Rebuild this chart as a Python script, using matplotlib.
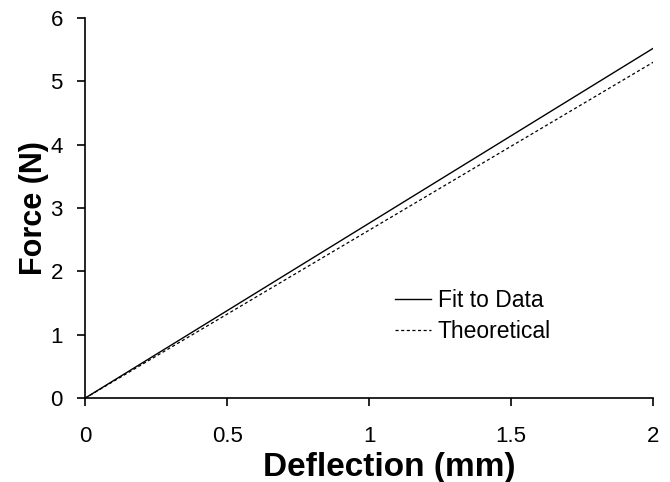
import matplotlib
matplotlib.use("Agg")
import matplotlib.pyplot as plt

plt.rcParams['font.family'] = ['Liberation Sans', 'DejaVu Sans']

deflection = [0, 2]
fit_to_data = [0, 5.52]
theoretical = [0, 5.30]
xticks = [0, 0.5, 1, 1.5, 2]
xtick_labels = ['0', '0.5', '1', '1.5', '2']
yticks = [0, 1, 2, 3, 4, 5, 6]

fig = plt.figure(figsize=(6.7, 4.82), dpi=100)
ax = fig.add_axes([0.127, 0.174, 0.848, 0.789])
ax.plot(deflection, fit_to_data, color='black', lw=1.0, label='Fit to Data')
ax.plot(deflection, theoretical, color='black', lw=0.9, ls=(0, (2.5, 2)), label='Theoretical')
ax.set_xlim(0, 2)
ax.set_ylim(0, 6)
ax.set_xticks(xticks)
ax.set_xticklabels(xtick_labels)
ax.set_yticks(yticks)
for s in ['top', 'right']:
    ax.spines[s].set_visible(False)
for s in ['left', 'bottom']:
    ax.spines[s].set_linewidth(1.2)
ax.tick_params(direction='out', length=6, width=1.2, labelsize=16)
ax.tick_params(axis='x', pad=14)
ax.tick_params(axis='y', pad=10)
ax.set_xlabel('Deflection (mm)', fontsize=24, fontweight='bold', labelpad=4)
ax.xaxis.label.set_x(0.535)
ax.set_ylabel('Force (N)', fontsize=22, fontweight='bold', labelpad=1)
ax.legend(loc='upper left', bbox_to_anchor=(0.51, 0.34), frameon=False, fontsize=16.5,
          handlelength=1.55, handletextpad=0.3, labelspacing=0.35)
fig.savefig('out.png', dpi=100)
